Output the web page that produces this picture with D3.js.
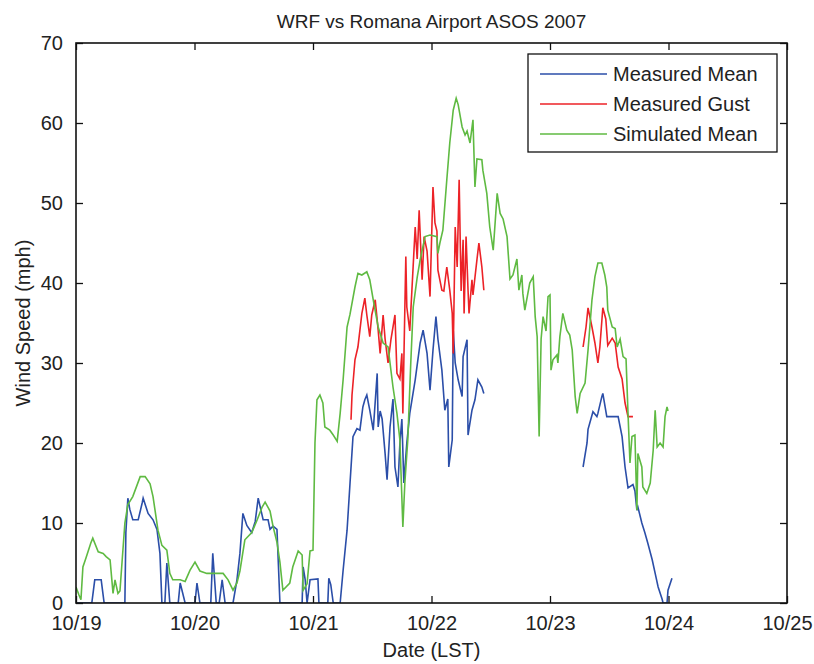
<!DOCTYPE html>
<html>
<head>
<meta charset="utf-8">
<script src="https://cdn.jsdelivr.net/npm/d3@7"></script>
<style>
  html, body { margin: 0; padding: 0; background: #fff; }
  text { font-family: "Liberation Sans", Arial, sans-serif; fill: #222; }
</style>
</head>
<body>
<svg id="chart" width="814" height="664"></svg>
<script>
// ---- Data (hours since 10/19 00:00 LST, wind speed in mph) ----
const dayLabels = ["10/19", "10/20", "10/21", "10/22", "10/23", "10/24", "10/25"];
const yTicks = [0, 10, 20, 30, 40, 50, 60, 70];
const seriesNames = ["Measured Mean", "Measured Gust", "Simulated Mean"];

const simHours = [0,0.6,1.0,1.4,2.0,3.0,3.4,4.5,5.5,6.1,6.9,7.5,7.9,8.5,8.9,9.9,10.5,11.5,13.0,14.0,15.0,15.6,16.6,17.4,18.4,19.0,19.6,21.1,22.1,23.1,24.1,25.1,26.5,28.6,29.8,30.8,31.8,32.6,33.2,34.2,35.6,36.7,37.7,38.3,39.3,39.9,40.7,41.3,41.9,43.3,43.9,45.0,45.8,46.0,46.8,47.4,48.0,48.4,48.8,49.4,50.0,50.4,51.4,52.1,52.9,53.5,54.1,54.9,55.5,56.5,57.1,57.9,58.9,59.5,60.2,61.2,62.2,63.2,64.2,65.0,65.6,66.2,66.6,67.2,67.8,68.3,69.1,69.7,70.7,71.7,73.1,73.3,73.7,74.3,75.1,75.7,76.4,77.0,77.4,78.2,78.8,79.2,79.8,80.4,80.8,81.2,82.2,82.4,83.2,83.8,84.5,85.3,85.9,86.5,87.3,87.9,88.5,89.3,89.7,90.3,90.5,90.9,91.9,92.6,93.0,93.4,93.8,94.2,94.6,95.2,95.6,96.0,96.2,96.6,97.4,97.6,98.0,98.6,99.4,100.0,100.5,101.1,101.5,102.1,103.1,103.7,104.5,105.1,105.7,106.5,107.1,107.5,107.7,108.6,109.2,109.6,110.2,110.8,111.4,111.8,112.2,112.6,113.2,113.6,113.8,114.6,114.8,115.6,116.3,116.9,117.3,117.7,118.3,118.9,119.3,119.7,119.9];
const simMean = [2.0,1.0,0.4,4.5,5.6,7.5,8.1,6.4,6.2,5.8,5.4,1.2,2.9,1.2,1.5,10,12.3,13.3,15.8,15.8,14.9,13.3,9.1,7.2,6.6,3.7,2.9,2.9,2.7,4.1,5.1,4.0,3.7,3.7,3.7,2.9,1.6,2.5,4.0,7.9,8.8,10.4,12.0,12.6,11.5,9.6,7.6,5.1,1.6,2.5,4.5,6.5,6.0,1.6,2.4,6.5,6.6,20,25.4,26,25,22,21.6,21,20.2,23.7,27.9,34.5,36.1,39.5,41.2,41.0,41.4,40.4,37.9,34.5,32.5,32,27,23.7,20.4,9.5,15,20.4,30,37,40.7,42.9,45.8,46,45.8,43.7,45,46.6,52.9,57.5,61.6,63.1,62.3,59.5,58.5,59,57.5,60.4,52,55.5,55.4,54.1,51.2,47,44.1,51.2,48.7,48,45.8,40.5,41,43,39.1,41,38.7,36.6,40,40.8,35.8,33.3,20.8,33,35.8,34,38.3,38.5,29.1,30.4,31,30,33.3,36.2,34.1,33.5,31.6,25.8,23.7,26.2,27.5,31.6,37.9,40.8,42.5,42.5,41,39.5,36.6,34.5,34.3,32,33,30.8,30.5,23.7,17.5,20.8,21,11.6,18.7,17,14.5,13.7,15,19.1,24.1,19.5,20,19.5,23.3,24.5,24];

const meanHours = [0,3.2,3.8,5.1,5.7,9.9,10.1,10.5,10.9,11.5,12.6,13.4,13.6,14.6,15.6,16.4,17.0,17.4,18.0,18.4,19.0,20.7,21.1,22.1,24.1,24.5,25.1,27.3,27.7,28.4,29.0,29.6,30.2,31.8,32.6,33.2,33.8,34.6,35.6,36.3,36.9,37.9,38.9,39.3,39.9,40.7,40.9,41.3,45.8,46.0,46.4,46.8,47.4,49.0,49.2,51.0,51.2,51.6,52.1,53.5,54.1,54.9,55.5,56.1,56.9,57.5,58.1,58.5,58.9,59.5,60.2,61.0,61.2,61.6,62.0,62.6,63.0,63.6,64.2,64.6,65.2,65.6,66.0,66.4,67.0,67.6,68.7,69.7,70.3,71.1,71.7,72.3,72.9,73.3,74.1,74.7,75.3,75.5,76.2,76.4,76.8,77.4,78.2,78.4,79.2,79.4,80.2,80.8,81.4,82.2,82.6,
  92.0,
  102.7,103.5,103.7,104.7,105.5,105.7,106.5,106.7,107.5,109.8,110.6,111.2,111.8,112.8,113.2,113.6,113.8,114.6,115.2,115.8,116.7,117.3,117.9,118.7,118.9,119.7,119.9,120.7];
const measuredMean = [0,0,2.9,2.9,0,0,8.8,13.1,11.7,10.4,10.4,12.5,13.1,11.2,10.4,9.2,6.2,0,0,5,0,0,2.5,0,0,2.5,0,0,6.2,0,0,2.9,0,0,2.9,6.2,11.2,9.7,8.8,10.2,13.1,10.4,10.4,9.2,9.6,9.2,6.2,0,0,4.5,3,0,2.9,3,0,0,3.1,2.3,0,0,4.1,9.1,15,20.8,21.8,21.6,24.5,25.4,26,24.1,21.6,28.7,22,24,23,18.7,15.4,22,25.5,17,14.5,20,23,15,20,23.7,27.9,32.5,34.1,31.2,26.6,31.6,35.8,33,29.1,24.1,25.5,17,20.4,34.1,30,27.9,25.8,30.8,32.9,21,24.1,25.4,27.9,27,26.2,
  null,
  17,20,21.7,23.9,23.3,23.7,25.8,26.2,23.3,23.3,20.8,17,14.4,14.8,14,11.6,12,10,8.8,7.5,5.4,3.7,2,0.5,0,0,1.6,3.1];

const gustHours = [55.7,55.9,56.5,57.1,57.9,58.5,58.9,59.5,59.9,60.6,61.2,61.6,62.2,62.6,63.2,63.8,64.6,65.0,65.6,66.0,66.2,66.8,67.0,67.6,68.7,69.1,69.5,70.1,70.5,71.1,71.7,72.3,72.7,73.1,73.3,74.1,74.5,75.1,75.7,76.2,76.4,76.8,77.2,77.6,78.0,78.4,78.6,79.0,79.4,79.6,80.2,80.4,81.2,81.6,82.2,82.6,
  92.0,
  102.7,103.3,103.7,104.5,105.1,105.7,106.1,106.7,107.3,107.7,108.6,109.2,109.8,110.6,111.2,111.8,112.8];
const measuredGust = [22.9,26,30.4,32,36.2,38.1,36,33.3,36,37.9,34.1,31.2,36,33,30,33,36,28.7,28,31.2,23.7,43.3,37,34,47,43,49.1,40.4,45.8,44,38.3,52,47.5,46.5,41.6,39.1,39,42,39.1,36.2,31.2,47,42,52.9,39,45.4,36.2,45.8,39.1,36.2,40.4,38.5,42.9,45,42,39.1,
  null,
  32,34.5,36.9,34.5,32.5,30,32,36.9,35.5,32.2,33.1,32.5,29.5,28,25,23.3,23.3];

const colors = ["#2b4ea8", "#ec2227", "#5fba42"];

// ---- Layout ----
const svg = d3.select("#chart");
const margin = { left: 76, top: 43, right: 814 - 787, bottom: 664 - 603 };
const W = 787 - 76, H = 603 - 43;

const x = d3.scaleLinear().domain([0, 144]).range([margin.left, margin.left + W]);
const y = d3.scaleLinear().domain([0, 70]).range([margin.top + H, margin.top]);

const g = svg.append("g");

// lines
function pts(hours, vals) { return hours.map((h, i) => [h, vals[i]]); }
const line = d3.line().defined(d => d[1] !== null).x(d => x(d[0])).y(d => y(d[1]));
const data = [pts(meanHours, measuredMean), pts(gustHours, measuredGust), pts(simHours, simMean)];

g.append("defs").append("clipPath").attr("id", "clip")
  .append("rect").attr("x", margin.left).attr("y", margin.top - 2).attr("width", W).attr("height", H + 2);

const plotG = g.append("g").attr("clip-path", "url(#clip)");
data.forEach((d, i) => {
  plotG.append("path").datum(d).attr("d", line)
    .attr("fill", "none").attr("stroke", colors[i]).attr("stroke-width", 1.6)
    .attr("stroke-linejoin", "miter");
});

// axes (MATLAB box style, ticks inside on all 4 sides)
const tickLen = 7;
const xTickVals = dayLabels.map((_, i) => i * 24);
const axB = d3.axisBottom(x).tickValues(xTickVals).tickFormat((d, i) => dayLabels[i]).tickSizeInner(-tickLen).tickSizeOuter(0).tickPadding(tickLen + 6);
const axT = d3.axisTop(x).tickValues(xTickVals).tickFormat("").tickSizeInner(-tickLen).tickSizeOuter(0);
const axL = d3.axisLeft(y).tickValues(yTicks).tickFormat(d3.format("d")).tickSizeInner(-tickLen).tickSizeOuter(0).tickPadding(tickLen + 6);
const axR = d3.axisRight(y).tickValues(yTicks).tickFormat("").tickSizeInner(-tickLen).tickSizeOuter(0);

function styleAxis(sel) {
  sel.select(".domain").remove();
  sel.selectAll(".tick line").attr("stroke", "#111").attr("stroke-width", 1.3);
  sel.selectAll(".tick text").attr("font-size", 20).attr("fill", "#222")
    .attr("font-family", "'Liberation Sans', Arial, sans-serif");
}
g.append("g").attr("transform", `translate(0,${margin.top + H})`).call(axB).call(styleAxis);
g.append("g").attr("transform", `translate(0,${margin.top})`).call(axT).call(styleAxis);
g.append("g").attr("transform", `translate(${margin.left},0)`).call(axL).call(styleAxis);
g.append("g").attr("transform", `translate(${margin.left + W},0)`).call(axR).call(styleAxis);

// box
g.append("rect").attr("x", margin.left).attr("y", margin.top).attr("width", W).attr("height", H)
  .attr("fill", "none").attr("stroke", "#111").attr("stroke-width", 1.6);

// title & labels
svg.append("text").attr("x", margin.left + W / 2).attr("y", 28).attr("text-anchor", "middle")
  .attr("font-size", 19).text("WRF vs Romana Airport ASOS 2007");
svg.append("text").attr("x", margin.left + W / 2).attr("y", 657).attr("text-anchor", "middle")
  .attr("font-size", 20).text("Date (LST)");
svg.append("text").attr("transform", `translate(30,${margin.top + H / 2}) rotate(-90)`)
  .attr("text-anchor", "middle").attr("font-size", 20).text("Wind Speed (mph)");

// legend
const lg = svg.append("g");
lg.append("rect").attr("x", 528).attr("y", 54).attr("width", 249).attr("height", 98)
  .attr("fill", "#fff").attr("stroke", "#111").attr("stroke-width", 1.3);
seriesNames.forEach((name, i) => {
  const yy = 74 + i * 30;
  lg.append("line").attr("x1", 540).attr("x2", 607).attr("y1", yy).attr("y2", yy)
    .attr("stroke", colors[i]).attr("stroke-width", 1.6);
  lg.append("text").attr("x", 613).attr("y", yy + 7).attr("font-size", 20).text(name);
});
</script>
</body>
</html>
